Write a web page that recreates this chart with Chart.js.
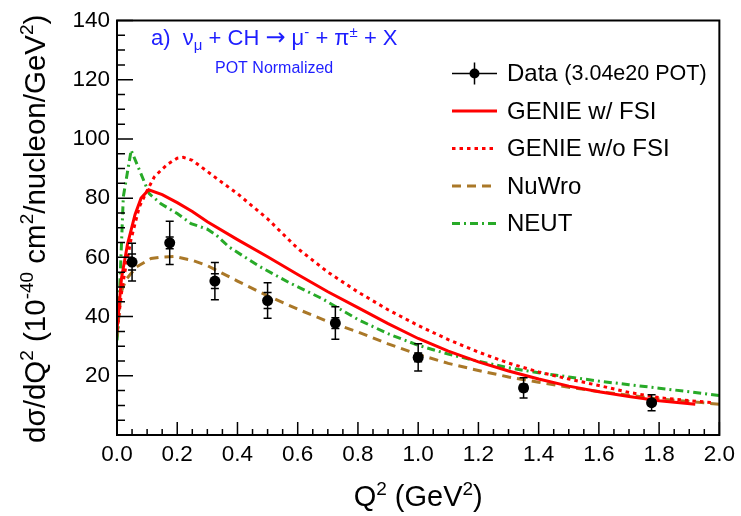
<!DOCTYPE html>
<html><head><meta charset="utf-8">
<script src="https://cdn.jsdelivr.net/npm/chart.js@4.4.1/dist/chart.umd.min.js"></script>
<style>html,body{margin:0;padding:0;background:#fff;}canvas{display:block;}</style>
</head><body>
<canvas id="c" width="741" height="516"></canvas>
<script>
// ---- data ----
const xTickValues = [0.0, 0.2, 0.4, 0.6, 0.8, 1.0, 1.2, 1.4, 1.6, 1.8, 2.0];
const yTickValues = [20, 40, 60, 80, 100, 120, 140];

const dataQ2 = [0.05, 0.175, 0.325, 0.5, 0.725, 1.0, 1.35, 1.775];
const dataXS = [58.4, 64.9, 52.0, 45.4, 37.8, 26.2, 15.9, 10.9];
const dataErrTot = [6.4, 7.3, 6.3, 6.0, 5.5, 4.6, 3.4, 2.7];
const dataErrStat = [2.7, 2.0, 2.5, 2.7, 1.8, 1.5, 1.2, 0.9];

const genieFsiQ2 = [0, 0.015, 0.035, 0.06, 0.08, 0.105, 0.15, 0.2, 0.25, 0.3, 0.4, 0.5, 0.6, 0.7, 0.8, 0.9, 1.0, 1.1, 1.2, 1.3, 1.4, 1.5, 1.6, 1.7, 1.8, 1.92];
const genieFsiXS = [35.5, 53, 64.5, 74.5, 80, 82.8, 81.2, 78.5, 75.5, 72, 66, 60.2, 54.2, 48.4, 43, 37.6, 32.6, 28.3, 24.7, 21.6, 18.9, 16.5, 14.6, 13.0, 11.6, 10.4];

const genieNoFsiQ2 = [0, 0.015, 0.025, 0.046, 0.074, 0.1, 0.124, 0.15, 0.17, 0.2, 0.22, 0.25, 0.3, 0.35, 0.4, 0.5, 0.6, 0.7, 0.8, 0.9, 1.0, 1.1, 1.2, 1.3, 1.4, 1.5, 1.6, 1.7, 1.8, 1.9, 1.98];
const genieNoFsiXS = [35, 48, 54.5, 65.8, 77, 82.5, 87.2, 89.8, 91.6, 93.5, 93.8, 92.8, 89, 85.2, 81.5, 73, 63, 55, 48.3, 42.3, 37.0, 32.2, 28.0, 24.3, 21.3, 18.9, 16.7, 14.4, 12.6, 11.6, 10.9];

const nuwroQ2 = [0, 0.013, 0.03, 0.065, 0.113, 0.15, 0.19, 0.25, 0.3, 0.4, 0.5, 0.6, 0.7, 0.8, 0.9, 1.0, 1.1, 1.2, 1.3, 1.4, 1.5, 1.6, 1.7, 1.8, 1.9, 2.0];
const nuwroXS = [33.2, 48, 52.5, 56.8, 59.6, 60.1, 60.3, 59, 57.2, 52, 47, 42.5, 38.3, 34.8, 30.8, 27.2, 24.2, 21.8, 19.6, 17.8, 16.1, 14.7, 13.4, 12.2, 11.3, 10.4];

const neutQ2 = [0, 0.004, 0.021, 0.047, 0.107, 0.146, 0.2, 0.246, 0.3, 0.33, 0.372, 0.472, 0.571, 0.682, 0.8, 0.9, 1.0, 1.1, 1.2, 1.3, 1.4, 1.5, 1.6, 1.7, 1.8, 1.9, 2.0];
const neutXS = [32, 36.5, 80.5, 96.2, 81.5, 78.1, 74.8, 71.4, 69.5, 67.5, 63.5, 57, 51.5, 46, 39.0, 34.2, 30.3, 27.3, 24.9, 22.7, 21.0, 19.6, 18.2, 17.0, 15.8, 14.6, 13.3];

const seriesNames = ['Data', 'GENIE w/ FSI', 'GENIE w/o FSI', 'NuWro', 'NEUT'];

// ---- styles ----
const FONT = '"Liberation Sans", Arial, Helvetica, sans-serif';
const RED = '#ff0000', BROWN = 'rgb(170,120,40)', GREEN = 'rgb(40,170,40)', BLUE = 'rgb(30,30,255)';
const DASH_DOT = [3.5, 4], DASH = [9, 6], DASH_DOTDASH = [8, 4, 2, 4];

Chart.defaults.font.family = FONT;

const pts = (xs, ys) => xs.map((v, i) => ({x: v, y: ys[i]}));

// rich text: segments [text, size, dy, family?]
function richWidth(ctx, segs) {
  let w = 0;
  segs.forEach(s => { ctx.font = s[1] + 'px ' + (s[3] || FONT); w += ctx.measureText(s[0]).width; });
  return w;
}
function richDraw(ctx, segs, x, y) {
  segs.forEach(s => { ctx.font = s[1] + 'px ' + (s[3] || FONT); ctx.fillText(s[0], x, y + s[2]); x += ctx.measureText(s[0]).width; });
}

const xTitle = [['Q', 29, 0], ['2', 19, -11], [' (GeV', 29, 0], ['2', 19, -11], [')', 29, 0]];
const yTitle = [['dσ/dQ', 29.5, 0], ['2', 19, -12], [' (10', 29.5, 0], ['-40', 19, -12], [' cm', 29.5, 0], ['2', 19, -12],
                ['/nucleon/GeV', 29.5, 0], ['2', 19, -12], [')', 29.5, 0]];

const rootPlugin = {
  id: 'rootStyle',
  afterDatasetsDraw(chart) {
    const {ctx, chartArea: a, scales: {x, y}} = chart;
    ctx.save();
    // error bars
    ctx.strokeStyle = '#000'; ctx.lineWidth = 1.5; ctx.setLineDash([]);
    dataQ2.forEach((q, i) => {
      const px = x.getPixelForValue(q);
      const yt = y.getPixelForValue(dataXS[i] + dataErrTot[i]);
      const yb = y.getPixelForValue(dataXS[i] - dataErrTot[i]);
      const st = y.getPixelForValue(dataXS[i] + dataErrStat[i]);
      const sb = y.getPixelForValue(dataXS[i] - dataErrStat[i]);
      ctx.beginPath();
      ctx.moveTo(px, yt); ctx.lineTo(px, yb);
      [yt, yb, st, sb].forEach(yy => { ctx.moveTo(px - 4, yy); ctx.lineTo(px + 4, yy); });
      ctx.stroke();
    });
    // frame
    ctx.lineWidth = 2;
    ctx.strokeRect(a.left, a.top, a.right - a.left, a.bottom - a.top);
    // inward ticks
    ctx.lineWidth = 1.5;
    ctx.beginPath();
    for (let k = 0; k <= 40; k++) {
      const px = x.getPixelForValue(k * 0.05);
      const len = (k % 4 === 0) ? 13 : 6;
      ctx.moveTo(px, a.bottom); ctx.lineTo(px, a.bottom - len);
    }
    for (let k = 0; k <= 28; k++) {
      const py = y.getPixelForValue(k * 5);
      const len = (k % 4 === 0) ? 16 : 8;
      ctx.moveTo(a.left, py); ctx.lineTo(a.left + len, py);
    }
    ctx.stroke();
    ctx.restore();
  },
  afterDraw(chart) {
    const {ctx, chartArea: a} = chart;
    ctx.save();
    // axis titles
    ctx.fillStyle = '#000';
    ctx.textBaseline = 'alphabetic';
    const wx = richWidth(ctx, xTitle);
    richDraw(ctx, xTitle, (a.left + a.right) / 2 - wx / 2, 506);
    const wy = richWidth(ctx, yTitle);
    ctx.save();
    ctx.translate(45, (a.top + a.bottom) / 2 + 1);
    ctx.rotate(-Math.PI / 2);
    richDraw(ctx, yTitle, -wy / 2, 0);
    ctx.restore();

    // annotation
    ctx.fillStyle = BLUE;
    const ann = [['a)  ', 22, 0], ['ν', 22, 0], ['μ', 15, 5], [' + CH ', 22, 0], ['→', 24, 0, '"DejaVu Sans", sans-serif'],
                 [' μ', 22, 0], ['-', 15, -8], [' + π', 22, 0], ['±', 15, -8], [' + X', 22, 0]];
    richDraw(ctx, ann, 151, 45);
    ctx.font = '16px ' + FONT;
    ctx.fillText('POT Normalized', 215, 73);

    // legend
    const x0 = 452, x1 = 497, tx = 507, y0 = 73.5, dy = 37.5;
    ctx.textBaseline = 'middle';
    ctx.fillStyle = '#000';
    ctx.strokeStyle = '#000'; ctx.lineWidth = 1.5; ctx.setLineDash([]);
    ctx.beginPath(); ctx.moveTo(x0, y0); ctx.lineTo(x1, y0); ctx.moveTo((x0 + x1) / 2, y0 - 11); ctx.lineTo((x0 + x1) / 2, y0 + 11); ctx.stroke();
    ctx.beginPath(); ctx.arc((x0 + x1) / 2, y0, 5, 0, Math.PI * 2); ctx.fill();
    ctx.font = '24px ' + FONT; ctx.fillText(seriesNames[0], tx, y0 + 1);
    const w = ctx.measureText(seriesNames[0] + ' ').width;
    ctx.font = '21.5px ' + FONT; ctx.fillText('(3.04e20 POT)', tx + w, y0 + 1);
    const entries = [[RED, []], [RED, DASH_DOT], [BROWN, DASH], [GREEN, DASH_DOTDASH]];
    entries.forEach((e, i) => {
      const yy = y0 + dy * (i + 1);
      ctx.strokeStyle = e[0]; ctx.lineWidth = 3; ctx.setLineDash(e[1]);
      ctx.beginPath(); ctx.moveTo(x0, yy); ctx.lineTo(x1, yy); ctx.stroke();
      ctx.setLineDash([]);
      ctx.font = '24px ' + FONT; ctx.fillStyle = '#000';
      ctx.fillText(seriesNames[i + 1], tx, yy + 1);
    });
    ctx.restore();
  }
};

const lineDs = (label, xs, ys, color, dash) => ({
  type: 'scatter', label, data: pts(xs, ys), showLine: true, borderColor: color, backgroundColor: color,
  borderWidth: 3, borderDash: dash, pointRadius: 0, tension: 0, fill: false
});

new Chart(document.getElementById('c'), {
  type: 'scatter',
  data: {
    datasets: [
      {label: seriesNames[0], data: pts(dataQ2, dataXS), pointRadius: 5.5, pointBackgroundColor: '#000', pointBorderWidth: 0, showLine: false},
      lineDs(seriesNames[1], genieFsiQ2, genieFsiXS, RED, []),
      lineDs(seriesNames[2], genieNoFsiQ2, genieNoFsiXS, RED, DASH_DOT),
      lineDs(seriesNames[3], nuwroQ2, nuwroXS, BROWN, DASH),
      lineDs(seriesNames[4], neutQ2, neutXS, GREEN, DASH_DOTDASH)
    ]
  },
  options: {
    responsive: false, animation: false, devicePixelRatio: 1,
    layout: {padding: {left: 0, right: 19, top: 20, bottom: 0}},
    plugins: {legend: {display: false}, tooltip: {enabled: false}},
    scales: {
      x: {
        type: 'linear', min: 0, max: 2,
        grid: {display: false, drawTicks: false}, border: {display: false},
        afterBuildTicks: s => { s.ticks = xTickValues.map(v => ({value: v})); },
        afterFit: s => { s.height = 81; },
        ticks: {font: {size: 22.5}, color: '#000', padding: 6, maxRotation: 0, autoSkip: false, callback: v => Number(v).toFixed(1)},
        title: {display: false}
      },
      y: {
        type: 'linear', min: 0, max: 140,
        grid: {display: false, drawTicks: false}, border: {display: false},
        afterBuildTicks: s => { s.ticks = yTickValues.map(v => ({value: v})); },
        afterFit: s => { s.width = 117; },
        ticks: {font: {size: 22.5}, color: '#000', padding: 7, autoSkip: false, callback: v => String(v)},
        title: {display: false}
      }
    }
  },
  plugins: [rootPlugin]
});
</script>
</body></html>
